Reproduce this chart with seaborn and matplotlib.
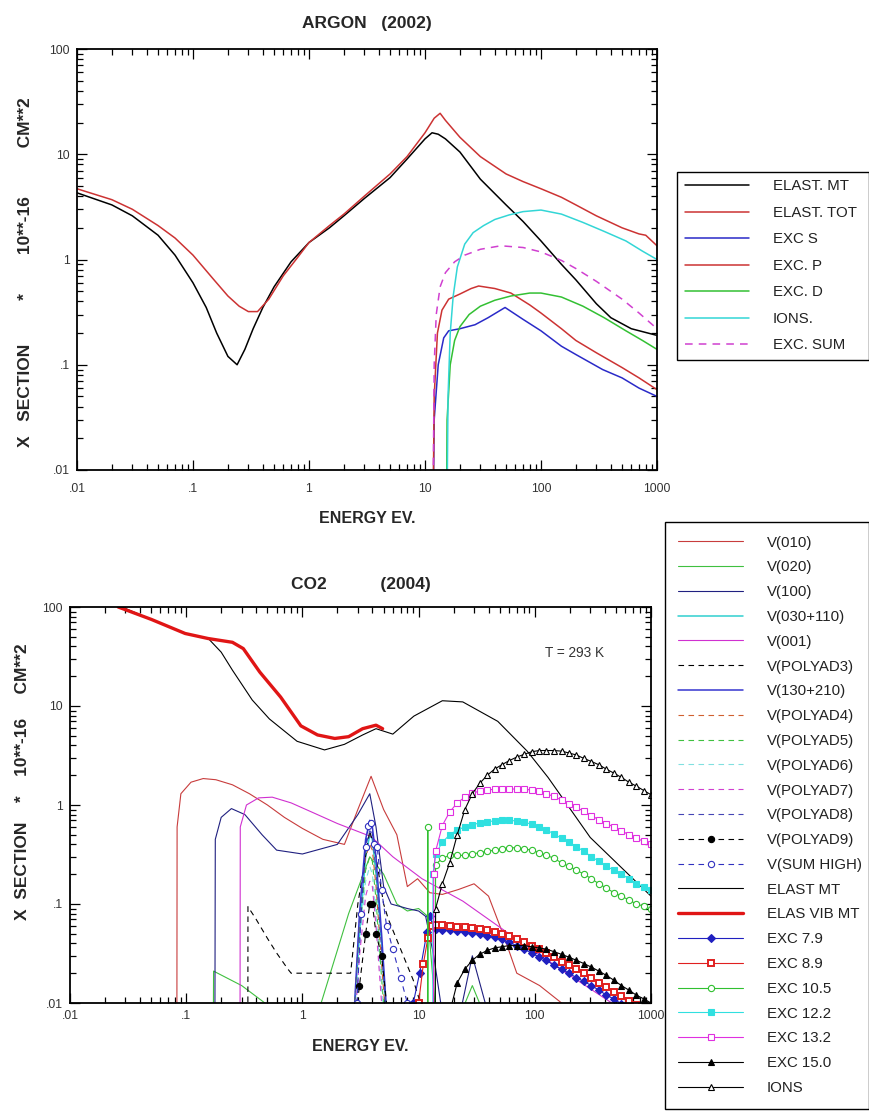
import matplotlib
matplotlib.use("Agg")
import matplotlib.pyplot as plt
import seaborn as sns
from matplotlib.ticker import LogLocator, NullFormatter

sns.set_theme(style="ticks")
plt.rcParams["font.family"] = ["Liberation Sans", "DejaVu Sans"]

# ---------------- ARGON (2002) ----------------
AR_MT_E = [0.01, 0.02, 0.03, 0.05, 0.07, 0.1, 0.13, 0.16, 0.2, 0.24, 0.28, 0.33, 0.4, 0.5,
           0.7, 1.0, 1.5, 2.0, 3.0, 5.0, 7.0, 10, 11.5, 13, 15, 20, 30, 50, 70, 100, 150,
           200, 300, 400, 600, 1000]
AR_MT = [4.3, 3.3, 2.6, 1.7, 1.1, 0.6, 0.35, 0.2, 0.12, 0.1, 0.14, 0.22, 0.35, 0.55,
         0.95, 1.45, 2.0, 2.6, 3.8, 6.0, 9.0, 14, 16, 15.5, 14, 10.5, 5.8, 3.3, 2.3, 1.5, 0.9,
         0.64, 0.38, 0.28, 0.22, 0.19]

AR_TOT_E = [0.01, 0.02, 0.03, 0.05, 0.07, 0.1, 0.15, 0.2, 0.25, 0.3, 0.36, 0.45, 0.6, 0.8,
            1.0, 1.5, 2.0, 3.0, 5.0, 7.0, 10, 12, 13.5, 15, 20, 30, 50, 70, 100, 150, 200,
            300, 500, 700, 800, 1000]
AR_TOT = [4.7, 3.7, 3.0, 2.1, 1.6, 1.1, 0.65, 0.45, 0.36, 0.32, 0.32, 0.42, 0.7, 1.05,
          1.45, 2.1, 2.7, 4.0, 6.5, 9.5, 16, 22, 24.5, 21, 14.5, 9.5, 6.5, 5.5, 4.7, 3.9, 3.3,
          2.6, 2.0, 1.75, 1.7, 1.35]

AR_S_E = [11.6, 12.0, 13, 14.5, 16, 20, 27, 35, 49, 70, 100, 150, 200, 340, 500, 700, 1000]
AR_S = [0.001, 0.03, 0.1, 0.18, 0.21, 0.22, 0.24, 0.28, 0.35, 0.27, 0.21, 0.15, 0.125,
        0.09, 0.075, 0.06, 0.05]

AR_P_E = [11.6, 12.0, 12.8, 14, 16, 20, 25, 29, 40, 55, 80, 100, 150, 200, 300, 500, 700, 1000]
AR_P = [0.001, 0.05, 0.2, 0.33, 0.42, 0.47, 0.53, 0.56, 0.53, 0.48, 0.37, 0.31, 0.22,
        0.17, 0.13, 0.094, 0.075, 0.058]

AR_D_E = [15.2, 15.5, 16.5, 18, 20, 24, 30, 40, 55, 80, 100, 150, 230, 350, 540, 750, 1000]
AR_D = [0.001, 0.03, 0.1, 0.17, 0.23, 0.3, 0.36, 0.41, 0.45, 0.48, 0.48, 0.44, 0.36, 0.28,
        0.21, 0.17, 0.14]

AR_ION_E = [15.3, 15.8, 16.5, 17.5, 19, 22, 26, 32, 40, 53, 70, 100, 150, 230, 350, 540,
            750, 1000]
AR_ION = [0.001, 0.05, 0.2, 0.45, 0.85, 1.4, 1.8, 2.1, 2.4, 2.65, 2.85, 2.95, 2.7, 2.25,
          1.85, 1.5, 1.2, 1.0]

AR_SUM_E = [11.6, 12.0, 12.5, 13.5, 15, 18, 22, 30, 45, 70, 100, 150, 200, 300, 500, 700, 1000]
AR_SUM = [0.001, 0.1, 0.3, 0.55, 0.75, 0.95, 1.1, 1.25, 1.35, 1.3, 1.18, 0.98, 0.82, 0.62,
          0.42, 0.31, 0.22]

# ---------------- CO2 (2004) ----------------
V010_E = [0.083, 0.0835, 0.09, 0.11, 0.14, 0.18, 0.25, 0.35, 0.5, 0.7, 1.0, 1.5, 2.3, 3.0,
          3.9, 5.0, 6.5, 8.0, 9.8, 12.5, 16, 22, 30, 40, 55, 70, 110, 170, 250]
V010 = [0.001, 0.6, 1.3, 1.7, 1.85, 1.8, 1.6, 1.3, 1.0, 0.75, 0.58, 0.45, 0.4, 0.9,
        1.95, 0.9, 0.5, 0.15, 0.18, 0.13, 0.125, 0.14, 0.16, 0.12, 0.045, 0.02, 0.015,
        0.01, 0.007]

V020_E = [0.17, 0.172, 0.3, 0.45, 0.7, 1.2, 1.45, 2.5, 3.8, 5.0, 6.5, 8.0, 10, 12, 14,
          21, 29, 40]
V020 = [0.001, 0.021, 0.015, 0.0105, 0.007, 0.005, 0.01, 0.08, 0.3, 0.2, 0.1, 0.085,
        0.09, 0.075, 0.008, 0.006, 0.015, 0.006]

V100_E = [0.176, 0.178, 0.2, 0.245, 0.32, 0.45, 0.6, 1.0, 2.0, 3.0, 3.8, 4.3, 5.0, 5.8, 8,
          10, 11.5, 13.5, 15.5, 17, 21, 29, 44]
V100 = [0.001, 0.45, 0.75, 0.92, 0.8, 0.5, 0.35, 0.32, 0.4, 0.8, 1.3, 0.6, 0.15, 0.1, 0.09,
        0.085, 0.075, 0.03, 0.01, 0.004, 0.005, 0.03, 0.005]

V001_E = [0.29, 0.292, 0.33, 0.42, 0.55, 0.8, 1.2, 2.0, 3.9, 6.0, 10.7, 24, 56, 166, 460]
V001 = [0.001, 0.6, 1.0, 1.18, 1.2, 1.05, 0.85, 0.65, 0.48, 0.3, 0.18, 0.107, 0.053,
        0.022, 0.01]

POLY3_E = [0.339, 0.34, 0.4, 0.5, 0.6, 0.75, 0.8, 1.0, 2.6, 3.0, 3.8, 4.3, 5.0, 5.5, 7.0,
           9.0, 11]
POLY3 = [0.001, 0.094, 0.07, 0.045, 0.032, 0.022, 0.02, 0.02, 0.02, 0.1, 0.55, 0.3, 0.1,
         0.07, 0.035, 0.017, 0.008]

# shape resonance near 3.8 eV
RES_E = [2.7, 3.1, 3.5, 3.8, 4.0, 4.3, 4.8, 5.4]
V030_110 = [0.004, 0.05, 0.3, 0.5, 0.45, 0.2, 0.04, 0.005]
V130_210 = [0.004, 0.08, 0.45, 0.7, 0.6, 0.3, 0.05, 0.006]
POLY4 = [0.004, 0.06, 0.3, 0.4, 0.35, 0.15, 0.025, 0.004]
POLY5 = [0.004, 0.05, 0.22, 0.3, 0.27, 0.11, 0.018, 0.003]
POLY6 = [0.003, 0.04, 0.17, 0.24, 0.2, 0.08, 0.014, 0.003]
POLY7 = [0.003, 0.03, 0.12, 0.17, 0.15, 0.06, 0.01, 0.002]
POLY8 = [0.004, 0.07, 0.38, 0.55, 0.5, 0.22, 0.035, 0.005]
POLY9 = [0.004, 0.015, 0.05, 0.1, 0.1, 0.05, 0.03, 0.008]

SUMH_E = [2.95, 3.2, 3.5, 3.7, 3.9, 4.1, 4.4, 4.8, 5.3, 6.0, 7.0, 8.0, 9.0]
SUMH = [0.01, 0.08, 0.38, 0.62, 0.66, 0.4, 0.38, 0.14, 0.06, 0.035, 0.018, 0.01, 0.006]

CO2_MT_E = [0.028, 0.05, 0.1, 0.155, 0.2, 0.25, 0.37, 0.52, 0.9, 1.55, 2.3, 3.3, 4.3, 6.0,
            9.1, 16, 24, 48, 86, 130, 300, 1000]
CO2_MT = [100, 75, 54, 48, 35, 23, 11.5, 7.4, 4.4, 3.6, 4.1, 5.1, 5.9, 5.2, 7.9, 11.3, 11,
          7, 3.5, 1.9, 0.47, 0.12]

VIB_MT_E = [0.026, 0.05, 0.098, 0.155, 0.25, 0.31, 0.43, 0.65, 0.97, 1.35, 1.9, 2.5, 3.3,
            4.3, 4.9]
VIB_MT = [100, 75, 54, 48, 44, 38, 22, 12.3, 6.3, 5.1, 4.7, 4.9, 5.9, 6.4, 5.9]

EXC79_E = [7.9, 9.0, 10.2, 11.8, 12.5, 13.3, 14, 16, 18.5, 21.5, 25, 29, 33.5, 39, 45, 52,
           60, 70, 81, 94, 109, 126, 146, 170, 197, 228, 265, 307, 356, 413, 479, 556,
           645, 748, 868, 1000]
EXC79 = [0.001, 0.01, 0.02, 0.052, 0.075, 0.06, 0.056, 0.055, 0.054, 0.053, 0.052, 0.051,
         0.05, 0.048, 0.046, 0.044, 0.041, 0.038, 0.035, 0.032, 0.029, 0.027, 0.024, 0.022,
         0.02, 0.018, 0.0165, 0.015, 0.0135, 0.012, 0.011, 0.0098, 0.0088, 0.008, 0.0072,
         0.0065]

EXC89_E = [8.9, 10, 11, 12, 13, 14, 16, 18.5, 21.5, 25, 29, 33.5, 39, 45, 52, 60, 70, 81,
           94, 109, 126, 146, 170, 197, 228, 265, 307, 356, 413, 479, 556, 645, 748, 868,
           1000]
EXC89 = [0.001, 0.01, 0.025, 0.045, 0.06, 0.062, 0.061, 0.06, 0.059, 0.058, 0.057, 0.056,
         0.054, 0.052, 0.05, 0.047, 0.044, 0.041, 0.038, 0.035, 0.032, 0.029, 0.026, 0.024,
         0.022, 0.02, 0.018, 0.016, 0.0145, 0.013, 0.0118, 0.0105, 0.0095, 0.0085, 0.0075]

EXC105_E = [11.9, 12.0, 12.1, 13.9, 14, 16, 18.5, 21.5, 25, 29, 33.5, 39, 45, 52, 60, 70,
            81, 94, 109, 126, 146, 170, 197, 228, 265, 307, 356, 413, 479, 556, 645, 748,
            868, 1000]
EXC105 = [0.001, 0.6, 0.001, 0.001, 0.25, 0.29, 0.31, 0.31, 0.31, 0.32, 0.33, 0.34, 0.35,
          0.36, 0.37, 0.37, 0.36, 0.35, 0.33, 0.31, 0.29, 0.26, 0.24, 0.22, 0.2, 0.18,
          0.16, 0.145, 0.13, 0.12, 0.11, 0.1, 0.095, 0.088]

EXC122_E = [13.2, 13.3, 14, 16, 18.5, 21.5, 25, 29, 33.5, 39, 45, 52, 60, 70, 81, 94, 109,
            126, 146, 170, 197, 228, 265, 307, 356, 413, 479, 556, 645, 748, 868, 1000]
EXC122 = [0.001, 0.2, 0.32, 0.42, 0.5, 0.56, 0.6, 0.63, 0.66, 0.68, 0.69, 0.7, 0.7, 0.69,
          0.67, 0.64, 0.6, 0.56, 0.51, 0.46, 0.42, 0.38, 0.34, 0.3, 0.27, 0.24, 0.22, 0.2,
          0.18, 0.16, 0.15, 0.14]

EXC132_E = [13.4, 13.5, 14, 16, 18.5, 21.5, 25, 29, 33.5, 39, 45, 52, 60, 70, 81, 94, 109,
            126, 146, 170, 197, 228, 265, 307, 356, 413, 479, 556, 645, 748, 868, 1000]
EXC132 = [0.001, 0.2, 0.34, 0.62, 0.85, 1.05, 1.2, 1.32, 1.38, 1.42, 1.44, 1.45, 1.45, 1.45,
          1.44, 1.42, 1.38, 1.3, 1.22, 1.12, 1.03, 0.95, 0.86, 0.78, 0.71, 0.65, 0.6, 0.55,
          0.5, 0.46, 0.43, 0.4]

EXC150_E = [18.5, 21.5, 25, 29, 33.5, 39, 45, 52, 60, 70, 81, 94, 109, 126, 146, 170, 197,
            228, 265, 307, 356, 413, 479, 556, 645, 748, 868, 1000]
EXC150 = [0.008, 0.016, 0.022, 0.027, 0.031, 0.034, 0.036, 0.037, 0.038, 0.038, 0.038,
          0.037, 0.036, 0.035, 0.033, 0.031, 0.029, 0.027, 0.025, 0.023, 0.021, 0.019,
          0.017, 0.015, 0.0135, 0.012, 0.011, 0.01]

IONS_E = [13.8, 14, 16, 18.5, 21.5, 25, 29, 33.5, 39, 45, 52, 60, 70, 81, 94, 109, 126, 146,
          170, 197, 228, 265, 307, 356, 413, 479, 556, 645, 748, 868, 1000]
IONS = [0.001, 0.09, 0.16, 0.26, 0.5, 0.9, 1.3, 1.65, 2.0, 2.3, 2.55, 2.8, 3.05, 3.25,
        3.45, 3.55, 3.55, 3.55, 3.5, 3.35, 3.2, 2.95, 2.75, 2.55, 2.3, 2.1, 1.9, 1.7, 1.55,
        1.4, 1.27]

X_TICKS = [0.01, 0.1, 1, 10, 100, 1000]
X_LABELS = [".01", ".1", "1", "10", "100", "1000"]
Y_TICKS = [0.01, 0.1, 1, 10, 100]
Y_LABELS = [".01", ".1", "1", "10", "100"]

W, H = 870, 1113
fig = plt.figure(figsize=(W / 100, H / 100), dpi=100)
fig.patch.set_facecolor("white")


def px_axes(left, top, right, bottom):
    return fig.add_axes([left / W, 1 - bottom / H, (right - left) / W, (bottom - top) / H])


def style_axes(ax, title, title_pad, ylabel, ylab_x, ylab_y, xpad):
    ax.set_xscale("log")
    ax.set_yscale("log")
    ax.set_xlim(0.01, 1000)
    ax.set_ylim(0.01, 100)
    ax.set_facecolor("white")
    ax.set_xticks(X_TICKS, X_LABELS)
    ax.set_yticks(Y_TICKS, Y_LABELS)
    ax.xaxis.set_minor_locator(LogLocator(base=10, subs=range(2, 10), numticks=20))
    ax.yaxis.set_minor_locator(LogLocator(base=10, subs=range(2, 10), numticks=20))
    ax.xaxis.set_minor_formatter(NullFormatter())
    ax.yaxis.set_minor_formatter(NullFormatter())
    ax.tick_params(which="both", direction="in", top=True, right=True, color="black",
                   width=0.9, labelsize=8.8, labelcolor="#333333")
    ax.tick_params(which="major", length=7)
    ax.tick_params(axis="x", which="major", pad=xpad)
    ax.tick_params(axis="y", which="major", pad=5)
    ax.tick_params(which="minor", length=4)
    for s in ax.spines.values():
        s.set_linewidth(1.3)
        s.set_color("black")
    ax.set_xlabel("ENERGY EV.", fontsize=11.5, fontweight="bold", labelpad=12)
    ax.set_ylabel(ylabel, fontsize=12.5, fontweight="bold")
    ax.yaxis.set_label_coords(ylab_x, ylab_y)
    ax.set_title(title, fontsize=12.5, fontweight="bold", pad=title_pad)
    ax.grid(False)


def curve(ax, E, S, label, color, lw=0.8, ls="-", marker=None, mfc=None, ms=4.0, mew=0.8):
    kws = dict(color=color, linewidth=lw, linestyle=ls)
    if marker is not None:
        kws.update(marker=marker, markersize=ms, markeredgecolor=color,
                   markerfacecolor=color if mfc is None else mfc, markeredgewidth=mew)
    sns.lineplot(x=E, y=S, ax=ax, estimator=None, sort=False, label=label, legend=False,
                 **kws)
    return ax.lines[-1]


def boxed_legend(handles, left, top, width, spacing, pad):
    leg = fig.legend(handles=handles, labels=[h.get_label() for h in handles],
                     loc="upper left",
                     bbox_to_anchor=(left / W, 1 - top / H - 0.0001, width / W, 0.0001),
                     mode="expand", fontsize=10.8, frameon=True, fancybox=False,
                     edgecolor="black", framealpha=1, handlelength=4.3,
                     handletextpad=1.6, labelspacing=spacing, borderpad=pad,
                     borderaxespad=0)
    leg.get_frame().set_linewidth(1.0)
    for t in leg.get_texts():
        t.set_color("#222222")
    return leg


# ---------- top panel ----------
ax1 = px_axes(77, 49, 657, 470)
RED = "#cc3333"
h1 = [
    curve(ax1, AR_MT_E, AR_MT, "ELAST. MT", "black", lw=1.1),
    curve(ax1, AR_TOT_E, AR_TOT, "ELAST. TOT", RED, lw=1.1),
    curve(ax1, AR_S_E, AR_S, "EXC S", "#2a2ac8", lw=1.1),
    curve(ax1, AR_P_E, AR_P, "EXC. P", RED, lw=1.1),
    curve(ax1, AR_D_E, AR_D, "EXC. D", "#33c033", lw=1.1),
    curve(ax1, AR_ION_E, AR_ION, "IONS.", "#33d6d6", lw=1.1),
    curve(ax1, AR_SUM_E, AR_SUM, "EXC. SUM", "#d040d0", lw=1.1, ls=(0, (5, 4))),
]
style_axes(ax1, "ARGON   (2002)", 15,
           "X   SECTION         *        10**-16          CM**2", -0.075, 0.47, 9)
if ax1.get_legend() is not None:
    ax1.get_legend().remove()
boxed_legend(h1, 677, 172, 192, 0.83, 0.5)

# ---------- bottom panel ----------
ax2 = px_axes(70, 607, 651, 1003)
DASH = (0, (5, 4))
h2 = [
    curve(ax2, V010_E, V010, "V(010)", "#c83c3c"),
    curve(ax2, V020_E, V020, "V(020)", "#40c040"),
    curve(ax2, V100_E, V100, "V(100)", "#202080"),
    curve(ax2, RES_E, V030_110, "V(030+110)", "#30d0d0", lw=1.1),
    curve(ax2, V001_E, V001, "V(001)", "#d030d0"),
    curve(ax2, POLY3_E, POLY3, "V(POLYAD3)", "black", ls=DASH),
    curve(ax2, RES_E, V130_210, "V(130+210)", "#3535d0", lw=1.1),
    curve(ax2, RES_E, POLY4, "V(POLYAD4)", "#d06030", ls=DASH),
    curve(ax2, RES_E, POLY5, "V(POLYAD5)", "#40c040", ls=DASH),
    curve(ax2, RES_E, POLY6, "V(POLYAD6)", "#80e0e0", ls=DASH),
    curve(ax2, RES_E, POLY7, "V(POLYAD7)", "#d040d0", ls=DASH),
    curve(ax2, RES_E, POLY8, "V(POLYAD8)", "#4545b5", ls=DASH),
    curve(ax2, RES_E, POLY9, "V(POLYAD9)", "black", ls=DASH, marker="o", ms=4.5),
    curve(ax2, SUMH_E, SUMH, "V(SUM HIGH)", "#3030c0", ls=DASH, marker="o", mfc="white",
          ms=4.5),
    curve(ax2, CO2_MT_E, CO2_MT, "ELAST MT", "black"),
    curve(ax2, VIB_MT_E, VIB_MT, "ELAS VIB MT", "#e01515", lw=2.4),
    curve(ax2, EXC79_E, EXC79, "EXC 7.9", "#2020c0", marker="D", ms=3.8),
    curve(ax2, EXC89_E, EXC89, "EXC 8.9", "#e02020", marker="s", mfc="white", ms=4.8,
          mew=1.4),
    curve(ax2, EXC105_E, EXC105, "EXC 10.5", "#30c030", marker="o", mfc="white", ms=4.5),
    curve(ax2, EXC122_E, EXC122, "EXC 12.2", "#30e0e0", marker="s", ms=5.0),
    curve(ax2, EXC132_E, EXC132, "EXC 13.2", "#e030e0", marker="s", mfc="white", ms=5.0),
    curve(ax2, EXC150_E, EXC150, "EXC 15.0", "black", marker="^", ms=4.5),
    curve(ax2, IONS_E, IONS, "IONS", "black", marker="^", mfc="white", ms=4.5),
]
style_axes(ax2, "CO2           (2004)", 13,
           "X  SECTION    *    10**-16     CM**2", -0.069, 0.56, 5)
if ax2.get_legend() is not None:
    ax2.get_legend().remove()
ax2.text(0.92, 0.885, "T = 293 K", transform=ax2.transAxes, ha="right", va="center",
         fontsize=9.8, color="#333333")
boxed_legend(h2, 665, 522, 204, 0.72, 0.9)

fig.savefig("out.png", dpi=100, facecolor="white")
